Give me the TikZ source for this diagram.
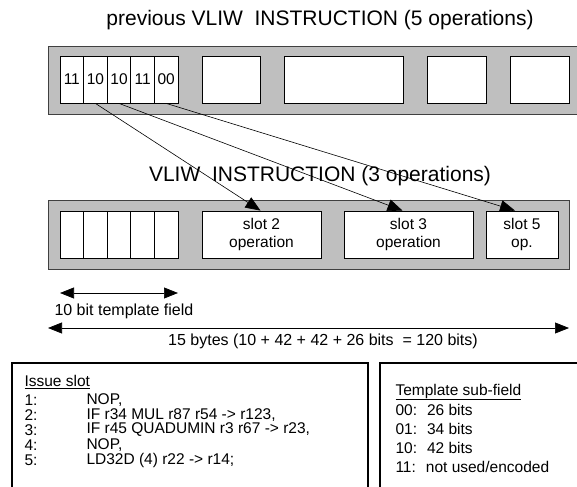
\documentclass[tikz,border=0pt]{standalone}
\usepackage{fontspec}
\setmainfont{Liberation Sans}
\usetikzlibrary{arrows.meta}

\begin{document}
\begin{tikzpicture}[x=1bp, y=-1bp, font=\fontsize{15.5bp}{18bp}\selectfont,
  frame/.style={draw=black!75, fill=black!25, line width=0.9bp},
  cell/.style={draw, fill=white, line width=0.8bp, inner sep=0pt, minimum height=47bp, align=center},
  textbox/.style={draw, line width=1.4bp},
  moveto/.style={-{Triangle[length=15bp, width=12bp]}, line width=0.6bp},
  span/.style={{Triangle[length=14bp, width=11bp]}-{Triangle[length=14bp, width=11bp]}, line width=0.7bp}]
  \useasboundingbox (0,0) rectangle (577,487);
  % previous instruction
  \node (title1) at (320,20) {\fontsize{21bp}{24bp}\selectfont previous VLIW~~INSTRUCTION (5 operations)};
  \draw[frame] (48,46) rectangle (600,114);
  \foreach \i/\b in {1/11, 2/10, 3/10, 4/11, 5/00}
    \node[cell, minimum width=23.6bp] (t\i) at (48.2+23.6*\i,79.5) {\b};
  \foreach \i/\a/\b in {1/202/261, 2/284/404, 3/427/487, 4/510/570}
    \node[cell, minimum width=\b-\a] (p\i) at ({(\a+\b)/2},79.5) {};
  % new instruction
  \node (title2) at (320,176) {\fontsize{21bp}{24bp}\selectfont VLIW~~INSTRUCTION (3 operations)};
  \draw[frame] (48,200) rectangle (569,269);
  \foreach \i in {1,...,5}
    \node[cell, minimum width=23.6bp] (b\i) at (48.2+23.6*\i,234.5) {};
  \node[cell, minimum width=119bp] (s2) at (261.5,234.5) {slot 2\\operation};
  \node[cell, minimum width=129bp] (s3) at (408.5,234.5) {slot 3\\operation};
  \node[cell, minimum width=72bp] (s5) at (522,234.5) {slot 5\\op.};
  \draw[moveto] (t2.south) -- ([xshift=-1bp]s2.north);
  \draw[moveto] (t3.south) -- ([xshift=-6bp]s3.north);
  \draw[moveto] (t5.south) -- ([xshift=-7bp]s5.north);
  % sizes
  \coordinate (tl) at (60,293);
  \coordinate (tr) at (178,293);
  \draw[span] (tl) -- (tr);
  \node[anchor=west, font=\fontsize{16bp}{18bp}\selectfont] (tlabel) at (51,311) {10 bit template field};
  \coordinate (wl) at (48,328);
  \coordinate (wr) at (569,328);
  \draw[span] (wl) -- (wr);
  \node[font=\fontsize{16bp}{18bp}\selectfont] (wlabel) at (323,341) {15 bytes (10 + 42 + 42 + 26 bits~~= 120 bits)};
  % legends
  \draw[textbox] (12,363) rectangle (368,500);
  \node[anchor=west] (issue) at (21,382) {\underline{Issue slot}};
  \foreach \n/\t in {1/{NOP,}, 2/{IF r34 MUL r87 r54 -> r123,}, 3/{IF r45 QUADUMIN r3 r67 -> r23,}, 4/{NOP,}, 5/{LD32D (4) r22 -> r14;}} {
    \node[anchor=west] (n\n) at (21,385+15*\n) {\n:};
    \node[anchor=west] (op\n) at (83,385+15*\n) {\t};
  }
  \draw[textbox] (380,363) rectangle (600,500);
  \node[anchor=west] (templ) at (392,392) {\underline{Template sub-field}};
  \foreach \c/\t [count=\i] in {00/{26 bits}, 01/{34 bits}, 10/{42 bits}, 11/{not used/encoded}}
    \node[anchor=west] (c\i) at (392,391+19*\i) {\c:\hspace{10bp}\t};
\end{tikzpicture}
\end{document}
